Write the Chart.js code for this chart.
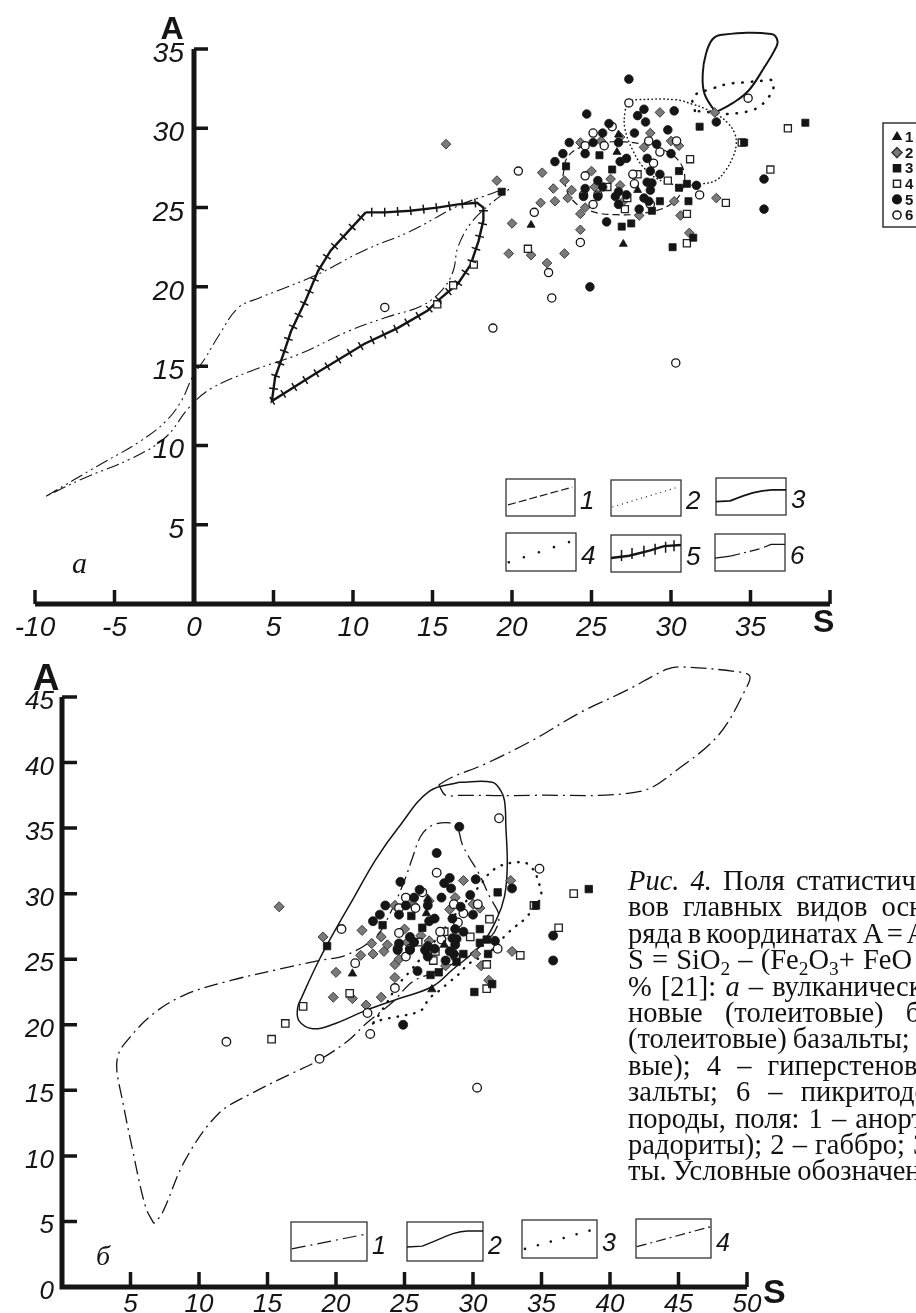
<!DOCTYPE html>
<html>
<head>
<meta charset="utf-8">
<script src="https://cdn.jsdelivr.net/npm/chart.js@4.4.1/dist/chart.umd.min.js"></script>
<style>
  html, body { margin: 0; padding: 0; background: #fff; }
  body { width: 916px; height: 1313px; position: relative; overflow: hidden; }
  canvas { position: absolute; left: 0; }
  #top { top: 0; }
  #bot { top: 640px; }
  .caption { position: absolute; left: 628px; top: 868px; color: #111;
    font: 28.5px/26.4px "Liberation Serif", "Times New Roman", serif; }
  .caption div { height: 26.4px; white-space: nowrap; }
  .caption sub { font-size: 0.68em; line-height: 0; vertical-align: -0.3em; }
</style>
</head>
<body>
<canvas id="top" width="916" height="640"></canvas>
<canvas id="bot" width="916" height="673"></canvas>
<div class="caption">
  <div style="word-spacing:4px"><i>Рис. 4.</i> Поля статистического</div>
  <div style="word-spacing:7px">вов главных видов основных</div>
  <div style="word-spacing:-2px">ряда в координатах A = Al<sub>2</sub>O<sub>3</sub></div>
  <div style="word-spacing:1px">S = SiO<sub>2</sub> – (Fe<sub>2</sub>O<sub>3</sub>+ FeO +</div>
  <div style="word-spacing:2px">% [21]: <i>а</i> – вулканические</div>
  <div style="word-spacing:15px">новые (толеитовые) базальты</div>
  <div style="word-spacing:-1px">(толеитовые) базальты; 3 –</div>
  <div style="word-spacing:9px">вые); 4 – гиперстеновые</div>
  <div style="word-spacing:11px">зальты; 6 – пикритодолеритовые</div>
  <div style="word-spacing:2px">породы, поля: 1 – анортозиты</div>
  <div style="word-spacing:1px">радориты); 2 – габбро; 3 –</div>
  <div style="word-spacing:-1px">ты. Условные обозначения</div>
</div>
<script>
// axis ticks
const topXTicks = [-10, -5, 0, 5, 10, 15, 20, 25, 30, 35];
const topYTicks = [5, 10, 15, 20, 25, 30, 35];
const botXTicks = [5, 10, 15, 20, 25, 30, 35, 40, 45, 50];
const botYTicks = [0, 5, 10, 15, 20, 25, 30, 35, 40, 45];

// samples, [S, A]
const group1 = [[21.2,23.9],[26.6,28.5],[26.7,29.6],[27.0,22.7],[27.9,26.1]];
const group2 = [[15.85,29.0],[19.05,26.7],[21.9,27.2],[22.6,26.2],[22.7,25.4],[21.8,25.3],[20.0,24.0],[19.8,22.1],
  [21.2,22.0],[22.2,21.5],[23.3,22.1],[23.3,26.7],[23.5,25.6],[23.75,26.1],[24.3,24.6],[24.3,23.6],[24.6,25.0],
  [25.0,27.3],[24.3,29.1],[25.6,29.2],[26.8,29.45],[26.2,26.8],[26.8,26.4],[28.0,24.5],[28.7,29.7],[28.3,28.8],
  [27.0,25.4],[25.2,26.3],[29.3,31.0],[32.75,31.0],[30.5,28.9],[30.0,29.2],[30.2,25.4],[32.85,25.6],[30.6,24.5],[31.15,23.4]];
const group3 = [[19.35,26.0],[23.4,27.6],[25.5,28.3],[26.3,27.4],[26.9,23.8],[27.5,24.0],[28.8,24.8],[31.8,30.1],
  [30.5,27.3],[31.0,26.5],[30.5,26.25],[29.3,25.4],[31.1,25.4],[31.4,23.1],[30.1,22.5],[38.45,30.35],[34.6,29.1]];
const group4 = [[21.0,22.4],[26.0,26.3],[27.25,25.6],[27.9,27.1],[27.1,24.9],[37.35,30.0],[34.45,29.1],[36.25,27.4],
  [31.2,28.05],[29.8,26.7],[33.45,25.3],[31.0,24.6],[31.0,22.75],[17.6,21.4],[16.3,20.1],[15.3,18.9]];
const group5 = [[27.35,33.1],[24.7,30.9],[30.2,31.1],[32.85,30.4],[35.85,26.8],[35.85,24.9],[24.9,20.0],[25.95,24.1],
  [23.6,29.1],[23.2,28.4],[22.7,27.9],[25.1,29.1],[24.6,28.4],[25.7,29.7],[26.1,30.3],[26.7,29.1],[26.8,27.9],
  [27.2,28.1],[27.7,29.7],[27.9,30.8],[28.3,31.2],[28.4,30.4],[28.5,28.1],[28.7,27.3],[28.5,26.6],[28.7,26.1],
  [25.4,26.7],[24.6,26.2],[24.5,25.7],[25.7,26.3],[25.4,25.7],[26.5,25.7],[26.7,25.2],[27.2,25.8],[28.0,24.9],
  [28.6,25.4],[29.8,29.9],[29.1,29.0],[30.0,28.4],[29.3,27.1],[28.8,26.55],[28.3,25.6],[31.6,26.4],[26.7,26.0]];
const group6 = [[20.4,27.3],[21.4,24.7],[24.3,22.8],[22.3,20.9],[22.5,19.3],[27.35,31.6],[25.1,29.7],[26.3,30.1],
  [24.6,28.9],[25.8,28.9],[24.6,27.0],[25.1,25.2],[24.5,25.8],[25.4,25.8],[27.7,26.5],[27.6,27.1],[28.6,29.2],
  [28.7,25.2],[34.85,31.9],[30.35,29.2],[29.3,28.5],[28.9,27.8],[31.8,25.8],[12.0,18.7],[18.8,17.4],[30.3,15.2]];
const group5b = [[29.0,35.1]];
const group6b = [[31.9,35.75]];

// field outlines, panel a
const topField1 = [[23.2,27.0],[23.5,28.2],[24.6,28.9],[26.3,29.15],[28.2,29.0],[29.8,28.5],[30.7,27.6],[30.8,26.4],
  [30.1,25.3],[28.6,24.7],[26.6,24.55],[24.9,24.8],[23.7,25.6],[23.2,27.0]];
const topField2 = [[27.3,31.7],[27.8,31.8],[30.3,31.8],[31.4,31.5],[32.0,31.3],[33.0,30.8],[33.6,30.3],[34.0,29.7],
  [34.1,29.0],[33.9,28.2],[33.4,27.3],[32.8,26.7],[32.0,26.5],[31.1,26.4],[29.6,26.6],[28.4,27.4],[27.6,28.6],
  [27.1,30.0],[27.1,31.0],[27.3,31.7]];
const topField3 = [[32.8,31.0],[32.1,32.2],[32.0,33.5],[32.2,34.7],[32.6,35.6],[33.2,35.9],[36.3,35.95],[36.7,35.5],
  [36.5,34.9],[35.9,33.9],[34.9,32.4],[33.9,31.6],[32.8,31.0]];
const topField4 = [[31.5,31.1],[31.4,32.0],[32.6,32.5],[33.6,32.8],[34.7,32.9],[35.8,33.0],[36.4,33.0],[36.4,32.4],
  [36.0,31.8],[35.6,31.4],[35.0,31.1],[34.4,31.0],[33.75,30.9],[32.6,31.0],[31.5,31.1]];
const topField5 = [[10.8,24.7],[12.0,24.7],[13.6,24.8],[15.3,25.0],[16.6,25.2],[17.8,25.3],[18.2,25.0],[18.2,24.2],
  [17.9,22.9],[17.4,21.4],[16.6,20.2],[15.3,19.1],[14.7,18.5],[12.8,17.4],[10.7,16.4],[7.6,14.5],[4.9,12.8],
  [5.1,14.3],[5.6,15.7],[6.1,17.2],[7.0,19.1],[7.8,21.0],[8.6,22.3],[9.7,23.5],[10.8,24.7]];
const topField6 = [[-9.3,6.8],[-5.9,8.8],[-3.4,10.25],[-1.8,11.5],[-0.8,12.8],[-0.1,14.3],[0.7,15.5],[1.6,17.0],
  [2.8,18.7],[4.1,19.3],[5.5,19.85],[7.8,20.8],[10.7,22.3],[13.6,23.5],[16.6,25.1],[18.2,25.7],[19.8,26.2],
  [18.6,25.2],[17.4,24.0],[16.6,22.5],[16.3,21.0],[15.6,19.8],[14.3,18.8],[12.0,18.05],[9.7,17.2],[6.6,15.75],
  [3.6,14.7],[1.1,13.6],[-0.3,12.4],[-1.8,10.5],[-3.9,9.2],[-7.0,7.9],[-9.3,6.8]];

// field outlines, panel b
const botField1 = [[6.7,4.85],[6.1,6.1],[5.1,10.7],[4.4,14.3],[4.0,16.55],[4.1,17.7],[4.6,18.6],[6.55,20.75],
  [9.0,22.3],[12.4,23.4],[16.1,24.3],[18.75,24.9],[20.7,25.3],[22.9,26.7],[24.0,28.6],[25.0,31.0],[25.6,32.8],
  [26.2,34.4],[27.0,35.2],[28.3,35.4],[28.9,34.9],[29.2,33.8],[29.7,32.8],[30.4,31.6],[31.2,29.8],[31.9,28.25],
  [31.3,26.7],[29.3,25.1],[27.2,24.0],[25.6,23.3],[24.1,21.7],[22.2,20.1],[20.9,18.8],[18.75,17.3],[16.8,16.3],
  [13.9,14.8],[11.4,13.2],[9.0,9.7],[7.3,5.6],[6.7,4.85]];
const botField2 = [[29.0,38.5],[31.4,38.5],[32.0,37.9],[32.3,37.1],[32.4,35.1],[32.5,32.1],[32.3,29.8],[31.7,28.0],
  [30.5,26.0],[28.5,24.2],[27.0,22.9],[24.6,22.0],[22.2,21.1],[19.7,20.0],[18.3,19.7],[17.3,20.3],[17.2,21.3],
  [17.5,22.1],[18.75,24.9],[20.2,27.7],[21.2,29.5],[22.9,32.6],[24.6,35.1],[26.8,37.8],[29.0,38.5]];
const botField3 = [[22.7,20.1],[23.4,20.4],[24.4,20.6],[26.2,21.1],[26.8,22.0],[27.6,22.65],[28.2,23.2],[28.9,23.8],
  [29.75,24.7],[31.1,25.45],[32.4,26.85],[33.1,27.5],[33.8,28.1],[34.9,29.6],[34.9,30.5],[34.2,32.1],[33.3,32.4],
  [31.6,31.9],[30.4,30.5],[29.0,28.8],[27.3,26.5],[25.5,24.2],[24.5,23.0],[23.6,21.5],[22.7,20.1]];
const botField4 = [[27.5,38.3],[28.5,38.9],[30.9,39.9],[34.35,41.7],[37.8,43.8],[41.2,45.5],[44.1,47.1],[45.1,47.3],
  [49.5,46.9],[50.2,46.6],[50.0,45.8],[48.0,42.2],[45.1,39.6],[42.2,37.8],[34.3,37.5],[29.0,37.5],[28.0,37.5],[27.5,38.3]];

const toXY = arr => arr.map(([x, y]) => ({ x, y }));
const INK = '#151515';

function markerSets(extra5, extra6, k) {
  return [
    { data: toXY(group1), pointStyle: 'triangle', pointRadius: 4.6 * k, backgroundColor: INK, borderColor: INK, borderWidth: 0.8 },
    { data: toXY(group5.concat(extra5)), pointStyle: 'circle', pointRadius: 4.3 * k, backgroundColor: INK, borderColor: INK, borderWidth: 0.8 },
    { data: toXY(group3), pointStyle: 'rect', pointRadius: 5 * k, backgroundColor: INK, borderColor: INK, borderWidth: 0.8 },
    { data: toXY(group6.concat(extra6)), pointStyle: 'circle', pointRadius: 4.1 * k, backgroundColor: '#fff', borderColor: INK, borderWidth: 1.3 },
    { data: toXY(group4), pointStyle: 'rect', pointRadius: 5 * k, backgroundColor: '#fff', borderColor: '#222', borderWidth: 1.3 },
    { data: toXY(group2), pointStyle: 'rectRot', pointRadius: 4.8 * k, backgroundColor: '#7a7a7a', borderColor: '#3a3a3a', borderWidth: 1 },
  ].map(d => ({ ...d, showLine: false, clip: false, pointHoverRadius: d.pointRadius }));
}

const field = (pts, dash, width, tension, extra) => ({
  data: toXY(pts), showLine: true, pointRadius: 0, pointHoverRadius: 0, fill: false, clip: false,
  borderColor: INK, borderWidth: width, borderDash: dash, tension, ...(extra || {})
});

// axes drawn by hand: ticks point inward, axes cross at zero
const frame = {
  id: 'frame',
  afterDatasetsDraw(chart, args, o) {
    const ctx = chart.ctx, xs = chart.scales.x, ys = chart.scales.y;
    const X = v => xs.getPixelForValue(v), Y = v => ys.getPixelForValue(v);
    const x0 = X(0), y0 = Y(0);
    ctx.save();
    ctx.strokeStyle = INK; ctx.fillStyle = INK;
    ctx.lineWidth = o.axisW;
    ctx.beginPath();
    ctx.moveTo(X(xs.min), y0); ctx.lineTo(X(xs.max), y0);
    ctx.moveTo(x0, y0 + o.axisW / 2); ctx.lineTo(x0, Y(ys.max));
    ctx.stroke();
    ctx.lineWidth = o.tickW;
    ctx.beginPath();
    o.xMarks.forEach(v => { ctx.moveTo(X(v), y0); ctx.lineTo(X(v), y0 - o.tickLen); });
    o.yMarks.forEach(v => { ctx.moveTo(x0, Y(v)); ctx.lineTo(x0 + o.tickLen, Y(v)); });
    ctx.stroke();
    ctx.font = o.tickFont;
    ctx.textBaseline = 'alphabetic';
    ctx.textAlign = 'center';
    o.xTicks.forEach(v => ctx.fillText(String(v), X(v), y0 + o.xBase));
    ctx.textAlign = 'right';
    o.yTicks.forEach(v => ctx.fillText(String(v), x0 - o.yGap, Y(v) + o.yBase));
    ctx.font = o.aFont; ctx.textAlign = 'center';
    ctx.fillText('A', x0 + o.aDx, Y(ys.max) + o.aDy);
    ctx.font = o.sFont; ctx.textAlign = 'left';
    ctx.fillText('S', X(xs.max) + o.sDx, y0 + o.sDy);
    ctx.font = o.panelFont;
    ctx.fillText(o.panel, o.panelX, o.panelY);
    ctx.restore();
  }
};

// cross ticks along the hatched outline
const hatch = {
  id: 'hatch',
  afterDatasetsDraw(chart) {
    const ctx = chart.ctx;
    chart.data.datasets.forEach((ds, i) => {
      if (!ds.hatch) return;
      const pts = chart.getDatasetMeta(i).data;
      ctx.save();
      ctx.strokeStyle = INK; ctx.lineWidth = 1.5;
      ctx.beginPath();
      let carry = 6;
      for (let k = 1; k < pts.length; k++) {
        const a = pts[k - 1], b = pts[k];
        const dx = b.x - a.x, dy = b.y - a.y, len = Math.hypot(dx, dy);
        if (!len) continue;
        const ux = dx / len, uy = dy / len;
        let d = carry;
        while (d < len) {
          const px = a.x + ux * d, py = a.y + uy * d;
          ctx.moveTo(px - uy * 4.5, py + ux * 4.5);
          ctx.lineTo(px + uy * 4.5, py - ux * 4.5);
          d += 13;
        }
        carry = d - len;
      }
      ctx.stroke();
      ctx.restore();
    });
  }
};

function sample(ctx, b) {
  const { x, y, w, h } = b;
  const P = (fx, fy) => [x + fx * w, y + fy * h];
  ctx.save();
  ctx.strokeStyle = '#333'; ctx.lineWidth = 1.3;
  ctx.strokeRect(x, y, w, h);
  ctx.strokeStyle = INK; ctx.fillStyle = INK; ctx.lineWidth = 1.2;
  ctx.beginPath();
  if (b.kind === 'dash') {
    ctx.setLineDash([8, 3]);
    ctx.moveTo(...P(0.03, b.y0)); ctx.lineTo(...P(0.96, b.y1));
    ctx.stroke();
  } else if (b.kind === 'dot') {
    ctx.setLineDash([1, 4]);
    ctx.moveTo(...P(0.02, b.y0)); ctx.lineTo(...P(0.92, b.y1));
    ctx.stroke();
  } else if (b.kind === 'solid') {
    ctx.lineWidth = b.lw || 1.8;
    ctx.moveTo(...P(0, b.y0)); ctx.lineTo(...P(0.2, b.y0 - 0.02));
    ctx.bezierCurveTo(...P(0.45, b.y0 - 0.2), ...P(0.6, b.y1 + 0.01), ...P(0.8, b.y1));
    ctx.lineTo(...P(1, b.y1));
    ctx.stroke();
  } else if (b.kind === 'sparse') {
    for (let i = 0; i < b.n; i++) {
      const f = i / (b.n - 1);
      const [px, py] = P(0.04 + f * 0.86, b.y0 + (b.y1 - b.y0) * f);
      ctx.moveTo(px + 1.3, py); ctx.arc(px, py, 1.3, 0, Math.PI * 2);
    }
    ctx.fill();
  } else if (b.kind === 'hatch') {
    ctx.lineWidth = 2.4;
    const pts = [P(0, b.y0), P(0.26, b.y0 - 0.06), P(0.55, b.y0 - 0.2), P(0.76, b.y1 + 0.03), P(1, b.y1)];
    pts.forEach((p, i) => i ? ctx.lineTo(...p) : ctx.moveTo(...p));
    ctx.stroke();
    ctx.lineWidth = 1.5; ctx.beginPath();
    [0.15, 0.3, 0.47, 0.63, 0.78, 0.9].forEach(f => {
      const [px, py] = P(f, b.y0 + (b.y1 - b.y0) * f);
      ctx.moveTo(px, py - 6); ctx.lineTo(px, py + 5);
    });
    ctx.stroke();
  } else if (b.kind === 'dashdot') {
    ctx.moveTo(...P(0, b.y0)); ctx.lineTo(...P(0.22, b.y0 - 0.05));
    ctx.stroke(); ctx.beginPath();
    ctx.setLineDash(b.dash || [10, 4, 2, 4]);
    ctx.moveTo(...P(b.mid || 0.22, b.y0 - 0.05)); ctx.lineTo(...P(0.68, b.y1 + 0.1));
    ctx.stroke(); ctx.beginPath(); ctx.setLineDash([]);
    ctx.moveTo(...P(0.7, b.y1 + 0.08)); ctx.lineTo(...P(0.8, b.y1)); ctx.lineTo(...P(1, b.y1));
    ctx.stroke();
  } else if (b.kind === 'dashdot2') {
    ctx.setLineDash(b.dash);
    ctx.moveTo(...P(0.01, b.y0)); ctx.lineTo(...P(0.99, b.y1));
    ctx.stroke();
  }
  ctx.setLineDash([]);
  ctx.font = b.font; ctx.textAlign = 'left'; ctx.textBaseline = 'alphabetic';
  ctx.fillText(b.num, x + w + 5, y + h - 7);
  ctx.restore();
}

const keys = {
  id: 'keys',
  afterDraw(chart, args, o) {
    const ctx = chart.ctx;
    (o.boxes || []).forEach(b => sample(ctx, b));
    if (o.markers) {
      const m = o.markers;
      ctx.save();
      ctx.strokeStyle = '#333'; ctx.lineWidth = 1.5;
      ctx.strokeRect(m.x, m.y, 60, m.h);
      ctx.font = 'bold 15px "Liberation Sans", Arial, sans-serif';
      ctx.textBaseline = 'middle'; ctx.textAlign = 'left';
      m.styles.forEach((s, i) => {
        const cy = m.y + 14 + i * 15.6;
        ctx.fillStyle = s.bg; ctx.strokeStyle = s.bc;
        Chart.helpers.drawPoint(ctx, { pointStyle: s.ps, radius: s.r, rotation: 0, borderWidth: s.bw }, m.x + 14, cy);
        ctx.fillStyle = INK;
        ctx.fillText(String(i + 1), m.x + 22, cy + 1);
      });
      ctx.restore();
    }
  }
};

function makeChart(id, datasets, xr, yr, pad, frameOpts, keyOpts) {
  return new Chart(document.getElementById(id), {
    type: 'scatter',
    data: { datasets },
    options: {
      responsive: false, animation: false, events: [],
      devicePixelRatio: 1,
      layout: { padding: pad },
      elements: { line: { capBezierPoints: false, borderCapStyle: 'butt' } },
      scales: {
        x: { type: 'linear', min: xr[0], max: xr[1], display: false },
        y: { type: 'linear', min: yr[0], max: yr[1], display: false }
      },
      plugins: { legend: { display: false }, tooltip: { enabled: false }, frame: frameOpts, keys: keyOpts }
    },
    plugins: [frame, hatch, keys]
  });
}

const sans = '"Liberation Sans", Arial, sans-serif';
const serif = '"Liberation Serif", "Times New Roman", serif';

makeChart('top',
  markerSets([], [], 1).concat([
    field(topField1, [7, 4], 1.2, 0.4),
    field(topField2, [0.5, 3.5], 1.5, 0.4, { borderCapStyle: 'round' }),
    field(topField3, [], 2, 0.4),
    field(topField4, [0.5, 9], 2.6, 0.4, { borderCapStyle: 'round' }),
    field(topField5, [], 2.4, 0, { hatch: true }),
    field(topField6, [13, 4, 2, 4, 2, 4], 1.1, 0.4)
  ]),
  [-10, 40], [0, 35], { left: 35, right: 86, top: 49, bottom: 36 },
  {
    xTicks: topXTicks, yTicks: topYTicks,
    xMarks: topXTicks.filter(v => v !== 0).concat([40]), yMarks: topYTicks,
    tickFont: 'italic 28px ' + sans, xBase: 32, yGap: 10, yBase: 13,
    tickLen: 14, axisW: 5, tickW: 3.5,
    aFont: 'bold 32px ' + sans, aDx: -22, aDy: -10,
    sFont: 'bold 32px ' + sans, sDx: -17, sDy: 28,
    panel: 'а', panelFont: 'italic 30px ' + serif, panelX: 72, panelY: 573
  },
  {
    boxes: [
      { x: 506, y: 479, w: 69, h: 37, num: '1', kind: 'dash', y0: 0.7, y1: 0.22 },
      { x: 611, y: 480, w: 70, h: 36, num: '2', kind: 'dot', y0: 0.75, y1: 0.22 },
      { x: 716, y: 478, w: 70, h: 37, num: '3', kind: 'solid', y0: 0.64, y1: 0.32 },
      { x: 506, y: 533, w: 70, h: 38, num: '4', kind: 'sparse', n: 5, y0: 0.77, y1: 0.24 },
      { x: 611, y: 535, w: 70, h: 37, num: '5', kind: 'hatch', y0: 0.62, y1: 0.27 },
      { x: 715, y: 534, w: 70, h: 37, num: '6', kind: 'dashdot', y0: 0.65, y1: 0.28 }
    ].map(b => ({ ...b, font: 'italic 26px ' + sans })),
    markers: {
      x: 883, y: 123, h: 104,
      styles: [
        { ps: 'triangle', r: 4.6, bg: INK, bc: INK, bw: 0.8 },
        { ps: 'rectRot', r: 5, bg: '#7a7a7a', bc: '#3a3a3a', bw: 1 },
        { ps: 'rect', r: 5, bg: INK, bc: INK, bw: 0.8 },
        { ps: 'rect', r: 5, bg: '#fff', bc: '#222', bw: 1.3 },
        { ps: 'circle', r: 4.3, bg: INK, bc: INK, bw: 0.8 },
        { ps: 'circle', r: 4.1, bg: '#fff', bc: INK, bw: 1.3 }
      ]
    }
  });

makeChart('bot',
  markerSets(group5b, group6b, 1.05).concat([
    field(botField1, [14, 5, 2, 5], 1.3, 0.35),
    field(botField2, [], 1.5, 0.4),
    field(botField3, [0.5, 8], 2.4, 0.4, { borderCapStyle: 'round' }),
    field(botField4, [16, 5, 2, 5], 1.3, 0.35)
  ]),
  [0, 50], [0, 45], { left: 62, right: 169, top: 57, bottom: 26 },
  {
    xTicks: botXTicks, yTicks: botYTicks,
    xMarks: botXTicks, yMarks: botYTicks.filter(v => v > 0),
    tickFont: 'italic 26px ' + sans, xBase: 25, yGap: 8, yBase: 12,
    tickLen: 15, axisW: 5, tickW: 3.5,
    aFont: 'bold 37px ' + sans, aDx: -16, aDy: -7,
    sFont: 'bold 34px ' + sans, sDx: 16, sDy: 16,
    panel: 'б', panelFont: 'italic 28px ' + serif, panelX: 96, panelY: 625
  },
  {
    boxes: [
      { x: 291, y: 582, w: 76, h: 39, num: '1', kind: 'dashdot2', dash: [14, 5, 2, 5], y0: 0.69, y1: 0.31 },
      { x: 407, y: 582, w: 76, h: 39, num: '2', kind: 'solid', lw: 1.4, y0: 0.64, y1: 0.23 },
      { x: 522, y: 580, w: 75, h: 38, num: '3', kind: 'sparse', n: 6, y0: 0.76, y1: 0.28 },
      { x: 636, y: 579, w: 75, h: 39, num: '4', kind: 'dashdot2', dash: [10, 4, 2, 4], y0: 0.71, y1: 0.2 }
    ].map(b => ({ ...b, font: 'italic 25px ' + sans }))
  });
</script>
</body>
</html>
